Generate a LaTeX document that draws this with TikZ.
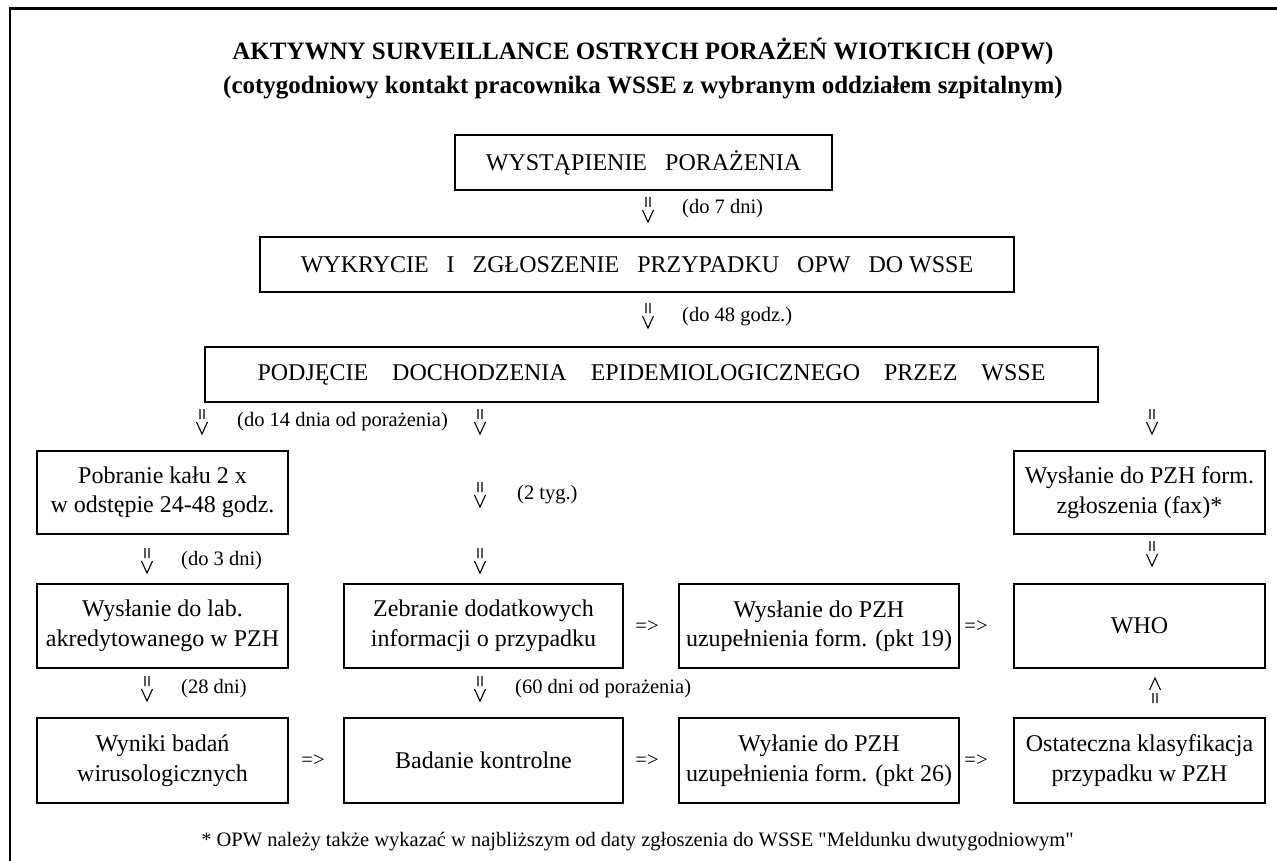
\documentclass[tikz,border=0pt]{standalone}
\usepackage{fontspec}
\setmainfont{Liberation Serif}[Ligatures=TeXOff]
\newcommand{\gp}{\hspace{0.75em}}
\newcommand{\gq}{\hspace{1em}}
\begin{document}
\begin{tikzpicture}[x=1pt,y=-1pt,
  box/.style={draw, line width=1.2pt, inner sep=0pt, align=center, font=\fontsize{24}{29.5}\selectfont},
  lbl/.style={anchor=west, inner sep=0pt, font=\fontsize{20.5}{24}\selectfont},
  impl/.style={inner sep=0pt, font=\fontsize{20.5}{24}\selectfont},
  ttl/.style={anchor=base, inner sep=0pt, font=\fontsize{25}{30}\selectfont\bfseries},
  darr/.pic={\draw[line width=1.1pt] (-2,0) -- (-2,10) (2,0) -- (2,10) (-5.5,13) -- (0,25) -- (5.5,13);},
  uarr/.pic={\draw[line width=1.1pt] (-5.5,12) -- (0,0) -- (5.5,12) (-2,15) -- (-2,25) (2,15) -- (2,25);},
]
\useasboundingbox (0,0) rectangle (1277,861);
% frame
\draw[line width=2.6pt] (10,861) -- (10,8.5) -- (1277,8.5);
% title
\node[ttl] (t1) at (643,60) {AKTYWNY SURVEILLANCE OSTRYCH PORAŻEŃ WIOTKICH (OPW)};
\node[ttl] (t2) at (643,94) {(cotygodniowy kontakt pracownika WSSE z wybranym oddziałem szpitalnym)};
% boxes
\node[box, minimum width=377pt, minimum height=55pt] (b1) at (643.5,162.5) {WYSTĄPIENIE\gp PORAŻENIA};
\node[box, minimum width=754pt, minimum height=55pt] (b2) at (637,264.5) {WYKRYCIE\gp I\gp ZGŁOSZENIE\gp PRZYPADKU\gp OPW\gp DO WSSE};
\node[box, minimum width=893pt, minimum height=55pt] (b3) at (651.5,374.5) {PODJĘCIE\gq DOCHODZENIA\gq EPIDEMIOLOGICZNEGO\gq PRZEZ\gq WSSE};
\node[box, minimum width=251pt, minimum height=83pt] (pob) at (162.5,492.5) {Pobranie kału 2 x\\w odstępie 24-48 godz.};
\node[box, minimum width=251pt, minimum height=83pt] (fax) at (1139.5,492.5) {Wysłanie do PZH form.\\zgłoszenia (fax)*};
\node[box, minimum width=251pt, minimum height=84pt] (lab) at (162.5,626) {Wysłanie do lab.\\akredytowanego w PZH};
\node[box, minimum width=279pt, minimum height=84pt] (zeb) at (483.5,626) {Zebranie dodatkowych\\informacji o przypadku};
\node[box, minimum width=280pt, minimum height=84pt] (p19) at (819,626) {Wysłanie do PZH\\uzupełnienia form. (pkt 19)};
\node[box, minimum width=251pt, minimum height=84pt] (who) at (1139.5,626) {WHO};
\node[box, minimum width=251pt, minimum height=85pt] (wyn) at (162.5,760.5) {Wyniki badań\\wirusologicznych};
\node[box, minimum width=279pt, minimum height=85pt] (bad) at (483.5,760.5) {Badanie kontrolne};
\node[box, minimum width=280pt, minimum height=85pt] (p26) at (819,760.5) {Wyłanie do PZH\\uzupełnienia form. (pkt 26)};
\node[box, minimum width=251pt, minimum height=85pt] (ost) at (1139.5,760.5) {Ostateczna klasyfikacja\\przypadku w PZH};
% implications
\node[impl] (e1) at (313,761) {=>};
\node[impl] (e2) at (647,627) {=>};
\node[impl] (e3) at (976,627) {=>};
\node[impl] (e4) at (647,761) {=>};
\node[impl] (e5) at (976,761) {=>};
% arrows
\coordinate (a1) at (648,197);
\coordinate (a2) at (648,303);
\coordinate (a3) at (202,409);
\coordinate (a4) at (480,409);
\coordinate (a5) at (1152,409);
\coordinate (a6) at (480,482);
\coordinate (a7) at (147,548);
\coordinate (a8) at (480,548);
\coordinate (a9) at (1152,541);
\coordinate (a10) at (147,676);
\coordinate (a11) at (480,676);
\coordinate (a12) at (1155,678);
\foreach \p in {a1,a2,a3,a4,a5,a6,a7,a8,a9,a10,a11} {\pic at (\p) {darr};}
\pic at (a12) {uarr};
% labels
\node[lbl] (l1) at (682,209) {(do 7 dni)};
\node[lbl] (l2) at (682,317) {(do 48 godz.)};
\node[lbl] (l3) at (237,422) {(do 14 dnia od porażenia)};
\node[lbl] (l4) at (517,495) {(2 tyg.)};
\node[lbl] (l5) at (181,561) {(do 3 dni)};
\node[lbl] (l6) at (181,689) {(28 dni)};
\node[lbl] (l7) at (515,689) {(60 dni od porażenia)};
% footnote
\node[impl] (fn) at (637.5,842) {* OPW należy także wykazać w najbliższym od daty zgłoszenia do WSSE "Meldunku dwutygodniowym"};
\end{tikzpicture}
\end{document}
